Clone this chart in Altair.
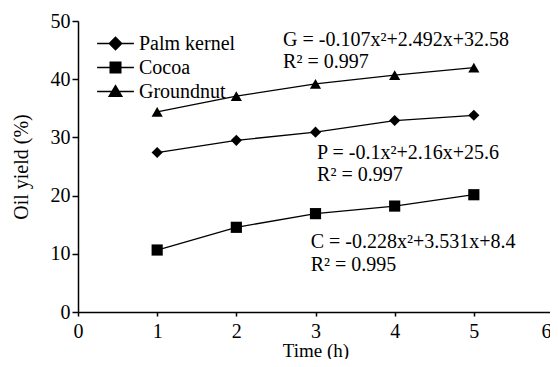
import altair as alt
import pandas as pd

time_h = [1, 2, 3, 4, 5]
palm_kernel = [27.4, 29.5, 30.9, 32.9, 33.8]
cocoa = [10.65, 14.55, 16.9, 18.2, 20.15]
groundnut = [34.4, 37.1, 39.2, 40.7, 42.0]
series_names = ["Palm kernel", "Cocoa", "Groundnut"]

ann_x = [2.59, 2.59, 3.02, 3.02, 2.94, 2.94]
ann_y = [46.7, 43.0, 27.3, 23.5, 12.1, 8.1]
ann_text = [
    "G  = -0.107x²+2.492x+32.58",
    "R² = 0.997",
    "P  = -0.1x²+2.16x+25.6",
    "R² = 0.997",
    "C  = -0.228x²+3.531x+8.4",
    "R² = 0.995",
]

rows = []
for name, vals in zip(series_names, [palm_kernel, cocoa, groundnut]):
    for t, v in zip(time_h, vals):
        rows.append({"series": name, "time": t, "oil": v})
df = pd.DataFrame(rows)
ann = pd.DataFrame({"x": ann_x, "y": ann_y, "text": ann_text})

FONT = "Liberation Serif"
FS = 20

xenc = alt.X("time:Q", scale=alt.Scale(domain=[0, 6], nice=False),
             axis=alt.Axis(values=[0, 1, 2, 3, 4, 5, 6], format="d", title="Time (h)",
                           tickSize=4, labelPadding=5, titlePadding=0, titleFontSize=19,
                           labelFlush=False,
                           labelOffset={"condition": {"test": "datum.value == 6", "value": -7},
                                        "value": 0}))
yenc = alt.Y("oil:Q", scale=alt.Scale(domain=[0, 50], nice=False),
             axis=alt.Axis(values=[0, 10, 20, 30, 40, 50], format="d", title="Oil yield (%)",
                           tickSize=6, labelPadding=2, titlePadding=19, labelFlush=False))

base = alt.Chart(df)

lines = base.mark_line(color="black", strokeWidth=1.3).encode(
    x=xenc, y=yenc, detail="series:N"
)

points = base.mark_point(filled=True, color="black", opacity=1, size=125).encode(
    x="time:Q", y="oil:Q",
    shape=alt.Shape("series:N",
                    scale=alt.Scale(domain=series_names,
                                    range=["diamond", "square", "triangle-up"]),
                    legend=None),
)

# legend glyphs: a short line (thin filled bar) with the marker on it
legend_paths = [
    "M-2.3,-0.08L2.3,-0.08L2.3,0.08L-2.3,0.08ZM0,-0.9L0.9,0L0,0.9L-0.9,0Z",
    "M-2.3,-0.08L2.3,-0.08L2.3,0.08L-2.3,0.08ZM-0.75,-0.75L0.75,-0.75L0.75,0.75L-0.75,0.75Z",
    "M-2.3,-0.08L2.3,-0.08L2.3,0.08L-2.3,0.08ZM0,-0.9L0.95,0.7L-0.95,0.7Z",
]

legend_layer = base.mark_point(filled=True, color="black", opacity=0, size=256).encode(
    x="time:Q", y="oil:Q",
    shape=alt.Shape("series:N",
                    scale=alt.Scale(domain=series_names, range=legend_paths),
                    legend=alt.Legend(title=None, orient="none", legendX=27.5, legendY=12.5,
                                      padding=0, rowPadding=4, labelOffset=13.5,
                                      symbolSize=256, symbolOpacity=1,
                                      symbolFillColor="black", symbolStrokeWidth=0,
                                      labelFont=FONT, labelFontSize=FS, labelColor="black")),
)

texts = alt.Chart(ann).mark_text(align="left", baseline="middle", font=FONT,
                                 fontSize=FS, color="black").encode(
    x="x:Q", y="y:Q", text="text:N"
)

chart = (
    alt.layer(lines, points, legend_layer, texts)
    .resolve_scale(shape="independent")
    .properties(width=475, height=291,
                autosize=alt.AutoSizeParams(type="none"),
                padding={"left": 70, "top": 13, "right": -3, "bottom": 47})
    .configure_view(stroke=None)
    .configure_axis(grid=False, domainColor="black", domainWidth=1.5, tickColor="black",
                    tickWidth=1.5, labelFont=FONT, labelFontSize=FS, labelColor="black",
                    titleFont=FONT, titleFontSize=FS, titleFontWeight="normal",
                    titleColor="black")
)

chart.save("out.html", embed_options={"renderer": "svg", "actions": False})
